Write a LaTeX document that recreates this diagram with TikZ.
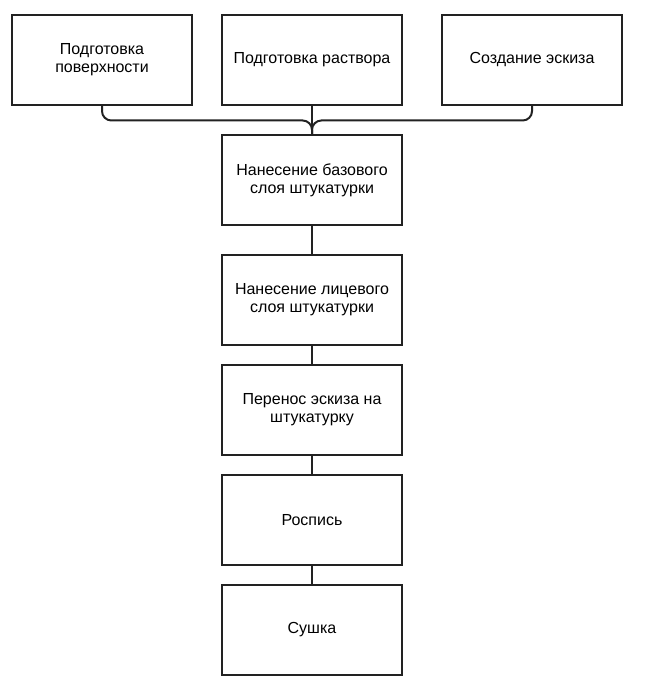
\documentclass[tikz,border=0pt]{standalone}
\usepackage{fontspec}
\setmainfont{Liberation Sans}
\begin{document}
\begin{tikzpicture}[x=0.75pt, y=-0.75pt, line width=1.5pt, color={rgb,255:red,34;green,34;blue,34},
    stepbox/.style={draw, fill=white, rectangle, minimum width=135pt, minimum height=67.5pt, align=center, font=\fontsize{12}{13.5}\selectfont, text=black}]
\useasboundingbox (0,0) rectangle (644,688);
\foreach \k/\x/\y/\t in {1/102/60/{Подготовка\\поверхности}, 2/312/60/{Подготовка раствора}, 3/532/60/{Создание эскиза}}
    \draw (\x, \y) node[stepbox] (t\k) {\t};
\foreach \k/\y/\t in {1/180/{Нанесение базового\\слоя штукатурки}, 2/300/{Нанесение лицевого\\слоя штукатурки}, 3/410/{Перенос эскиза на\\штукатурку}, 4/520/{Роспись}, 5/630/{Сушка}}
    \draw (312, \y) node[stepbox] (m\k) {\t};
\coordinate (j) at (312,120.5);
\draw[rounded corners=7pt] (t1.south) -- (t1.south |- j) -- (j) -- (m1.north);
\draw[rounded corners=7pt] (t3.south) -- (t3.south |- j) -- (j) -- (m1.north);
\draw (t2) -- (m1);
\foreach \i/\j in {1/2, 2/3, 3/4, 4/5}
    \draw (m\i) -- (m\j);
\end{tikzpicture}
\end{document}
